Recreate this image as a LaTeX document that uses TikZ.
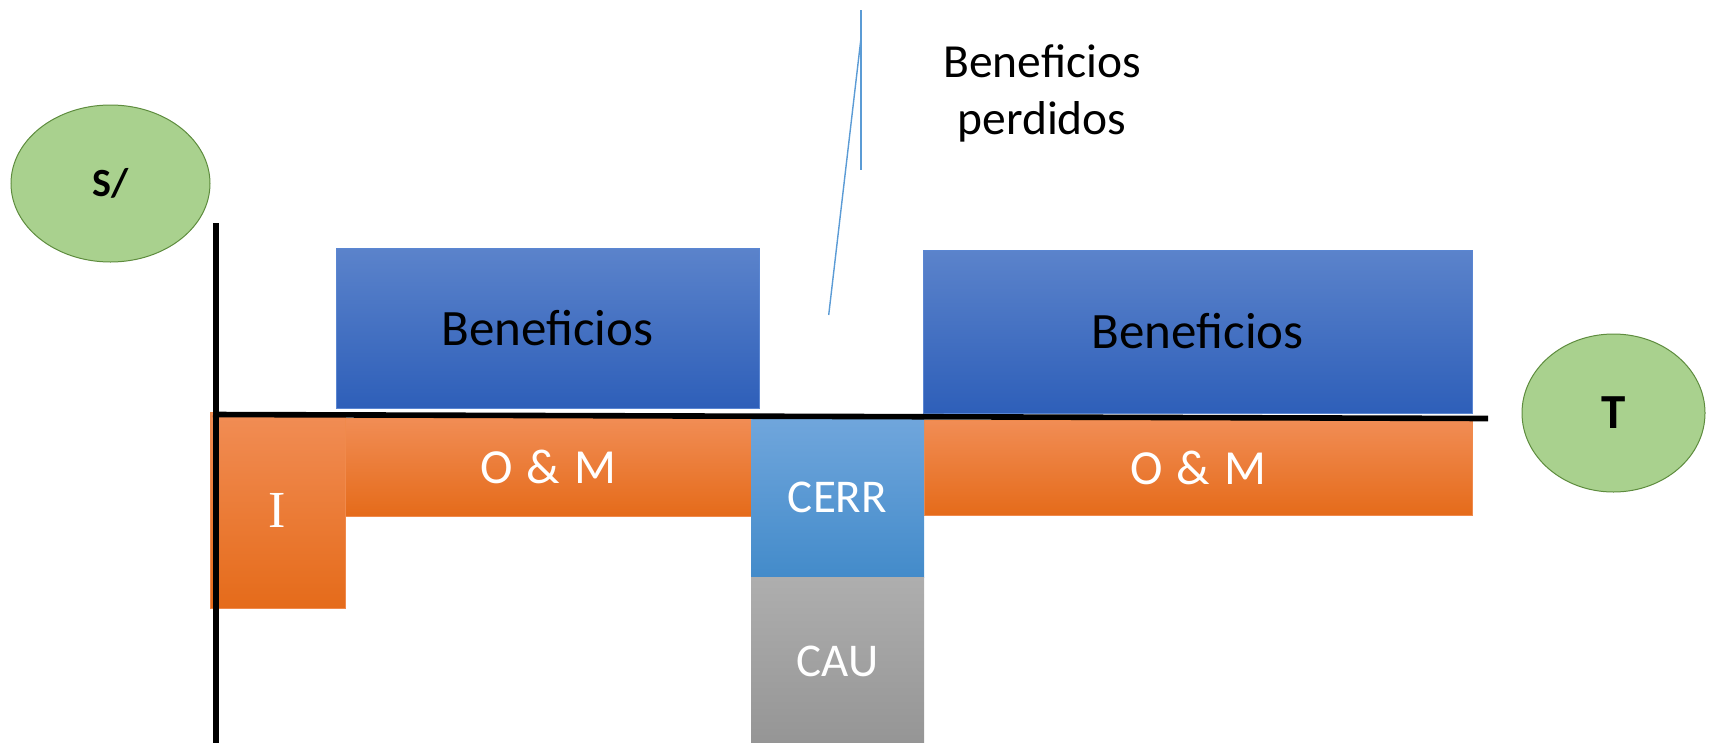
\documentclass[tikz,border=0pt]{standalone}
\usepackage{fontspec}
\setmainfont{Carlito}
\newfontfamily\serifI{Liberation Serif}
\usetikzlibrary{shapes.geometric}
\definecolor{benTop}{HTML}{5B83CB}
\definecolor{benBot}{HTML}{2E5FB9}
\definecolor{benEdge}{HTML}{5A86D2}
\definecolor{orTop}{HTML}{F18D55}
\definecolor{orMid}{HTML}{F47C2C}
\definecolor{orBot}{HTML}{E56B1A}
\definecolor{orEdge}{HTML}{F08A4C}
\definecolor{ceTop}{HTML}{70A6DC}
\definecolor{ceMid}{HTML}{5499D8}
\definecolor{ceBot}{HTML}{438BCA}
\definecolor{caTop}{HTML}{AEAEAE}
\definecolor{caBot}{HTML}{959595}
\definecolor{grFill}{HTML}{A9D18E}
\definecolor{grEdge}{HTML}{5E8C3E}
\definecolor{callBlue}{HTML}{5B9BD5}
\begin{document}
\begin{tikzpicture}[x=1pt,y=-1pt,
  every node/.style={inner sep=0pt, outer sep=0pt},
  benbox/.style={rectangle, draw=benEdge, line width=1pt, top color=benTop, bottom color=benBot,
    font=\fontsize{51}{60}\selectfont, text=black},
  orbox/.style={rectangle, draw=orEdge, line width=0.8pt, top color=orTop, middle color=orMid, bottom color=orBot,
    font=\fontsize{49}{58}\selectfont, text=white},
  cebox/.style={rectangle, top color=ceTop, middle color=ceMid, bottom color=ceBot,
    font=\fontsize{47}{56}\selectfont, text=white},
  cabox/.style={rectangle, top color=caTop, bottom color=caBot,
    font=\fontsize{47}{56}\selectfont, text=white},
  axisline/.style={line width=5.6pt, black},
  greenell/.style={ellipse, draw=grEdge, line width=1pt, fill=grFill, text=black},
  callline/.style={draw=callBlue, line width=1.4pt}
]
\useasboundingbox (0,0) rectangle (1710,742);
% boxes
\node[benbox, minimum width=423pt, minimum height=160pt] (b1) at (547.5,328) {Beneficios};
\node[benbox, minimum width=549pt, minimum height=163pt] (b2) at (1197.5,331.5) {Beneficios};
\node[orbox, minimum width=135pt, minimum height=196pt, font=\serifI\fontsize{52}{60}\selectfont] (inv) at (277.5,510) {I};
\node[orbox, minimum width=406pt, minimum height=98pt] (om1) at (548,467) {O\ \kern3pt\&\ \kern3pt M};
\node[orbox, minimum width=548pt, minimum height=95pt] (om2) at (1198,467.5) {O\ \kern3pt\&\ \kern3pt M};
\node[cebox, minimum width=173pt, minimum height=159pt] (cerr) at (837.5,497.5) {CERR};
\node[cabox, minimum width=173pt, minimum height=168pt] (cau) at (837.5,661) {CAU};
% axes
\coordinate (vtop) at (216,223);
\coordinate (vbot) at (216,745);
\coordinate (hleft) at (213,414.5);
\coordinate (hright) at (1488,418.5);
\draw[axisline] (vtop) -- (vbot);
\draw[axisline] (hleft) -- (hright);
% ellipses
\node[greenell, minimum width=199pt, minimum height=157pt, font=\bfseries\fontsize{40}{46}\selectfont] (sol) at (110.5,183.5) {S/};
\node[greenell, minimum width=183pt, minimum height=158pt, font=\bfseries\fontsize{49}{56}\selectfont] (tt) at (1613.5,413) {T};
% callout
\node[align=center, font=\fontsize{47.5}{57}\selectfont] (lost) at (1042,93) {Beneficios\\perdidos};
\coordinate (c1) at (861,10);
\coordinate (c2) at (861,170);
\coordinate (c3) at (861,38);
\coordinate (c4) at (828.7,315);
\draw[callline] (c1) -- (c2);
\draw[callline] (c3) -- (c4);
\end{tikzpicture}
\end{document}
